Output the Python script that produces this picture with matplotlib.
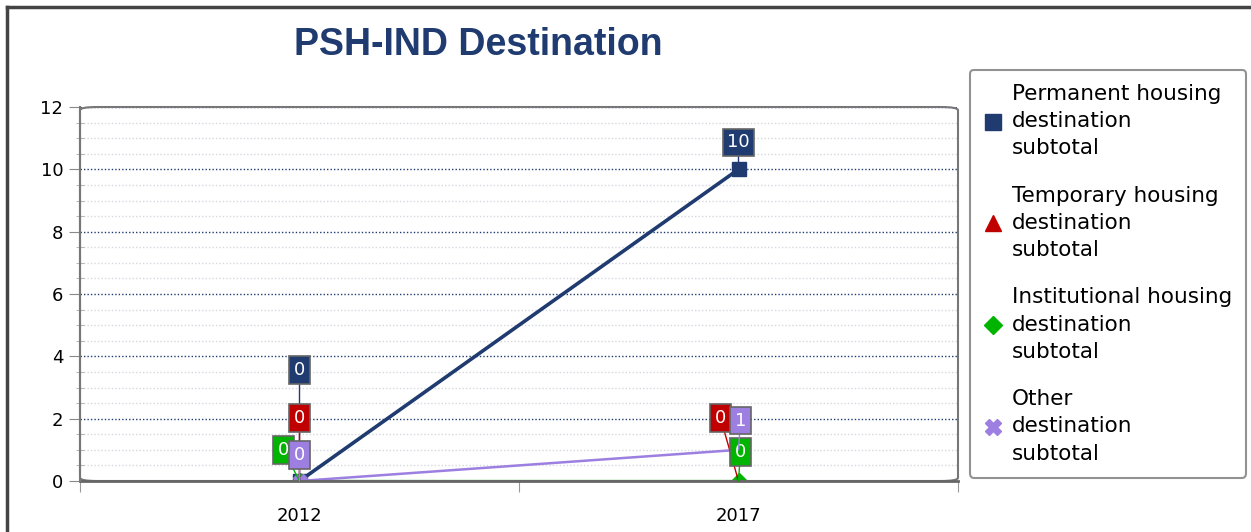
import matplotlib
matplotlib.use("Agg")
import matplotlib.pyplot as plt
from matplotlib.patches import FancyBboxPatch
from matplotlib.lines import Line2D
from matplotlib.ticker import MultipleLocator, FixedLocator, NullFormatter

# --- DATA ---
years = ["2012", "2017"]
series_names = [
    "Permanent housing\ndestination\nsubtotal",
    "Temporary housing\ndestination\nsubtotal",
    "Institutional housing\ndestination\nsubtotal",
    "Other\ndestination\nsubtotal",
]
permanent = [0, 10]
temporary = [0, 0]
institutional = [0, 0]
other = [0, 1]

# --- STYLE ---
NAVY = "#1F3B70"
RED = "#C00000"
GREEN = "#00B400"
PURPLE = "#9C7FE0"
colors = [NAVY, RED, GREEN, PURPLE]
markers = ["s", "^", "D", "X"]
widths = [2.6, 1.3, 1.6, 1.8]
# label offsets in pixels (dx, dy) per series, per year
label_offsets = [
    [(0, 111), (0, 27)],
    [(0, 63), (-18, 63)],
    [(-16, 31), (2, 29)],
    [(0, 26), (2, 29)],
]

fig = plt.figure(figsize=(12.51, 5.32), dpi=100)
ax = fig.add_axes([80 / 1251, 1 - 481 / 532, 878 / 1251, 374 / 532])

x = list(range(len(years)))
all_values = [permanent, temporary, institutional, other]
for vals, name, c, m, w in zip(all_values, series_names, colors, markers, widths):
    ax.plot(x, vals, color=c, lw=w, marker=m, markersize=10 if m != "D" else 8,
            markeredgecolor=c, label=name, zorder=3)

for vals, c, offs in zip(all_values, colors, label_offsets):
    for xi, v in enumerate(vals):
        ax.annotate(str(v), (xi, v), xytext=offs[xi], textcoords="offset pixels",
                    ha="center", va="center", color="white", fontsize=13,
                    bbox=dict(boxstyle="square,pad=0.25", fc=c, ec="#666666", lw=1.2),
                    arrowprops=dict(arrowstyle="-", color=c, lw=1, shrinkA=0, shrinkB=0),
                    zorder=5, annotation_clip=False)

ax.set_xlim(-0.5, 1.5)
ax.set_ylim(0, 12)
for s in ax.spines.values():
    s.set_visible(False)

# rounded plot frame
frame = FancyBboxPatch((0, 0), 1, 1, boxstyle="round,pad=0,rounding_size=0.02",
                       transform=ax.transAxes, fc="none", ec="#777777", lw=1.5,
                       mutation_aspect=374 / 878, zorder=4, clip_on=False)
ax.add_patch(frame)
ax.add_line(Line2D([0, 1], [0, 0], transform=ax.transAxes, color="#666666", lw=2, zorder=4,
                   clip_on=False))
ax.add_line(Line2D([0, 0], [0, 1], transform=ax.transAxes, color="#777777", lw=1.5, zorder=4,
                   clip_on=False))

ax.yaxis.set_major_locator(MultipleLocator(2))
ax.yaxis.set_minor_locator(MultipleLocator(0.5))
ax.grid(which="major", axis="y", color=NAVY, lw=1, linestyle=(0, (1, 1.5)))
ax.grid(which="minor", axis="y", color="#d6d8e0", lw=1, linestyle=(0, (1, 1.5)))
ax.tick_params(axis="y", which="major", length=8, color="#888888", labelsize=13, pad=4)
ax.tick_params(axis="y", which="minor", length=6, direction="inout", color="#aaaaaa")

ax.xaxis.set_major_locator(FixedLocator([-0.5, 0.5, 1.5]))
ax.xaxis.set_major_formatter(NullFormatter())
ax.xaxis.set_minor_locator(FixedLocator(x))
ax.set_xticklabels(years, minor=True)
ax.tick_params(axis="x", which="major", length=8, color="#999999")
ax.tick_params(axis="x", which="minor", length=0, labelsize=13, pad=19)
ax.set_axisbelow(True)

# title
fig.text(478 / 1251, 1 - 45 / 532, "PSH-IND Destination", ha="center", va="center",
         fontsize=27, fontweight="bold", color=NAVY, family="Liberation Sans")

# legend
handles = [Line2D([], [], color=c, marker=m, linestyle="none", markersize=12 if m != "D" else 9)
           for c, m in zip(colors, markers)]
leg = fig.legend(handles, series_names, loc="upper left",
                 bbox_to_anchor=(970 / 1251, 1 - 70 / 532), borderaxespad=0,
                 fontsize=15.5, frameon=True, fancybox=True, edgecolor="#777777",
                 handlelength=0.8, handletextpad=0.5, labelspacing=1.27, borderpad=0.65)
for t in leg.get_texts():
    t.set_linespacing(1.45)
leg.get_frame().set_linewidth(1.5)

# outer border
fig.add_artist(Line2D([7 / 1251, 7 / 1251], [0, 1 - 7 / 532], transform=fig.transFigure,
                      color="#444444", lw=2.5))
fig.add_artist(Line2D([7 / 1251, 1], [1 - 7 / 532, 1 - 7 / 532], transform=fig.transFigure,
                      color="#444444", lw=2.5))

fig.savefig("out.png", dpi=100)
